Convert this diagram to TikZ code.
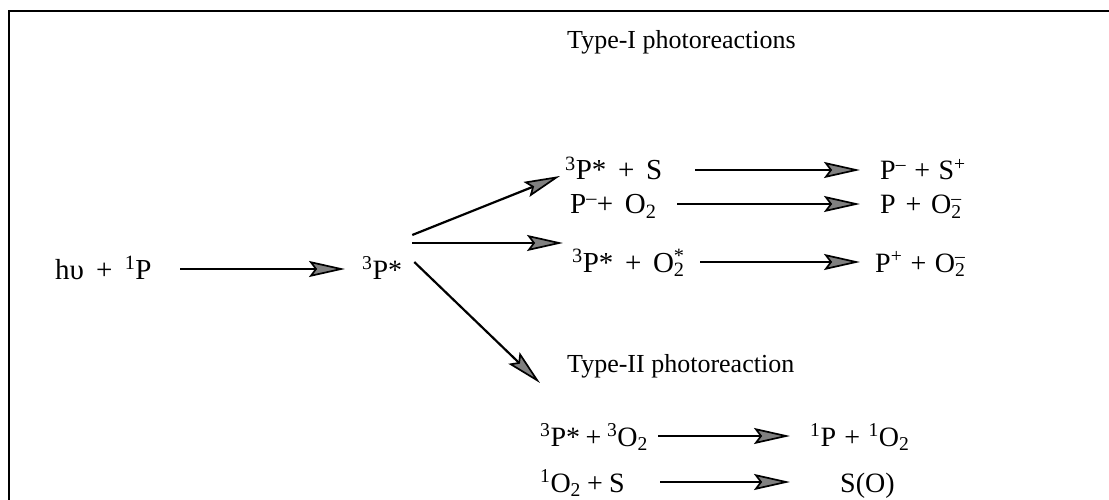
\documentclass[tikz,border=0pt]{standalone}
\usepackage{fontspec}
\setmainfont{Liberation Serif}
\usetikzlibrary{arrows.meta}
\newcommand\up[1]{\textsuperscript{#1}}
\newcommand\dn[1]{\textsubscript{#1}}
\newcommand\updn[2]{\rlap{\textsuperscript{#1}}\textsubscript{#2}}
% plus sign with adjustable side space
\newcommand\pl[1][0.3em]{\kern#1+\kern#1}
\begin{document}
\begin{tikzpicture}[x=1pt,y=-1pt,
  head/.style={inner sep=0pt, anchor=base west, font=\fontsize{26}{30}\selectfont},
  lbl/.style={inner sep=0pt, anchor=base west, font=\fontsize{28}{32}\selectfont},
  big/.style={lbl, font=\fontsize{29}{33}\selectfont},
  arr/.style={line width=2.2pt,
    -{Stealth[length=36pt,width=16pt,inset=6pt,fill=black!50,line width=1.7pt]}},
  frame/.style={line width=2.8pt}]
\useasboundingbox (0,0) rectangle (1109,500);
\draw[frame] (9,500) -- (9,11) -- (1109,11);

% headings
\node[head] (t1) at (567,49) {Type-I photoreactions};
\node[head] (t2) at (567,372) {Type-II photoreaction};

% excitation
\node[big] (hv) at (55,279) {hυ\pl[0.42em]\up{1}P};
\node[lbl] (p3) at (362,279) {\up{3}P*};

% type I
\node[big] (r1l) at (565,180) {\up{3}P*\pl[0.4em]S};
\node[lbl] (r1r) at (880,180) {P\up{--}\pl S\up{+}};
\node[big] (r2l) at (570,214) {P\up{--}+\kern0.4em O\dn{2}};
\node[lbl] (r2r) at (880,214) {P\pl[0.35em]O\updn{--}{2}};
\node[big] (r3l) at (572,272) {\up{3}P*\pl[0.4em]O\updn{*}{2}};
\node[lbl] (r3r) at (875,272) {P\up{+}\pl O\updn{--}{2}};

% type II
\node[lbl] (r4l) at (540,446) {\up{3}P*\pl[0.2em]\up{3}O\dn{2}};
\node[lbl] (r4r) at (810,446) {\up{1}P\pl[0.3em]\up{1}O\dn{2}};
\node[lbl] (r5l) at (540,492) {\up{1}O\dn{2}\pl[0.22em]S};
\node[lbl] (r5r) at (840,492) {S(O)};

% branch end points
\coordinate (eI)  at ([shift={(-5,-4)}]r1l.base west);
\coordinate (eM)  at ([shift={(-9,-29)}]r3l.base west);
\coordinate (eII) at ([shift={(0,-63)}]r4l.base west);

% excitation and branching
\draw[arr] ([yshift=10pt]hv.base east -| 180,0) -- ([yshift=10pt]p3.base west -| 345,0);
\draw[arr] ([shift={(10,-44)}]p3.base east) -- (eI);
\draw[arr] ([shift={(10,-36)}]p3.base east) -- (eM);
\draw[arr] ([shift={(12,-17)}]p3.base east) -- (eII);

% reaction arrows
\draw[arr] ([yshift=10pt]r1l.base east -| 695,0) -- ([yshift=10pt]r1r.base west -| 860,0);
\draw[arr] ([yshift=10pt]r2l.base east -| 677,0) -- ([yshift=10pt]r2r.base west -| 860,0);
\draw[arr] ([yshift=10pt]r3l.base east -| 700,0) -- ([yshift=10pt]r3r.base west -| 860,0);
\draw[arr] ([yshift=10pt]r4l.base east -| 658,0) -- ([yshift=10pt]r4r.base west -| 790,0);
\draw[arr] ([yshift=10pt]r5l.base east -| 660,0) -- ([yshift=10pt]r5r.base west -| 790,0);
\end{tikzpicture}
\end{document}
